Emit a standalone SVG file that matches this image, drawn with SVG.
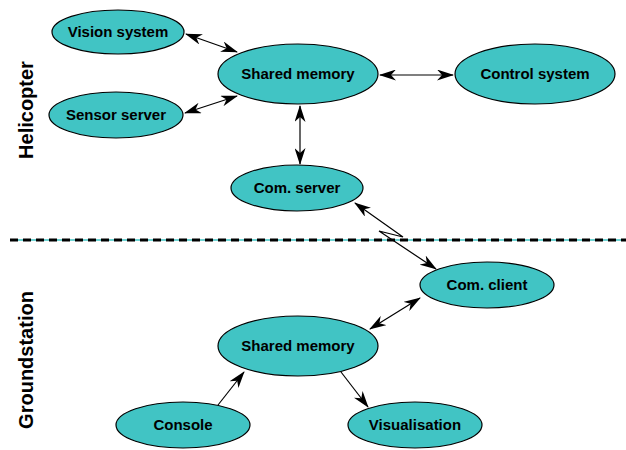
<svg xmlns="http://www.w3.org/2000/svg" width="626" height="450" viewBox="0 0 626 450">
<style>
.n ellipse{fill:#41c4c4;stroke:#000;stroke-width:1.2}
.n text{font-family:"Liberation Sans",Arial,sans-serif;font-weight:bold;font-size:15px;text-anchor:middle;fill:#000}
.lab{font-family:"Liberation Sans",Arial,sans-serif;font-weight:bold;font-size:20px;text-anchor:middle;fill:#000}
.c{fill:none;stroke:#000;stroke-width:1.2}
</style>
<defs>
<marker id="ah" viewBox="0 0 17 11" refX="16" refY="5.5" markerWidth="17" markerHeight="11" markerUnits="userSpaceOnUse" orient="auto-start-reverse">
<path d="M0,0 L17,5.5 L0,11 L5,5.5 z" fill="#000"/>
</marker>
</defs>
<rect width="626" height="450" fill="#fff"/>
<line x1="10" y1="240" x2="626" y2="240" stroke="#41c4c4" stroke-width="1.5"/>
<line x1="10" y1="240" x2="626" y2="240" stroke="#000" stroke-width="3" stroke-dasharray="8,5"/>
<text class="lab" transform="translate(33,110) rotate(-90)">Helicopter</text>
<text class="lab" transform="translate(33,360) rotate(-90)">Groundstation</text>
<g id="connectors">
<line class="c" x1="186" y1="34" x2="237" y2="52" marker-start="url(#ah)" marker-end="url(#ah)"/>
<line class="c" x1="185" y1="113" x2="237" y2="96" marker-start="url(#ah)" marker-end="url(#ah)"/>
<line class="c" x1="380" y1="75" x2="453" y2="75" marker-start="url(#ah)" marker-end="url(#ah)"/>
<line class="c" x1="300" y1="106" x2="300" y2="164" marker-start="url(#ah)" marker-end="url(#ah)"/>
<polyline class="c" points="355,203 403,237 379,231 436,269" marker-start="url(#ah)" marker-end="url(#ah)"/>
<line class="c" x1="420" y1="298" x2="370" y2="329" marker-start="url(#ah)" marker-end="url(#ah)"/>
<line class="c" x1="218" y1="405" x2="244" y2="372" marker-end="url(#ah)"/>
<line class="c" x1="341" y1="372" x2="368" y2="407" marker-end="url(#ah)"/>
</g>
<g id="vision" class="n"><ellipse cx="118" cy="32" rx="66" ry="22"/><text x="118" y="37">Vision system</text></g>
<g id="sensor" class="n"><ellipse cx="116" cy="115" rx="67" ry="23"/><text x="116" y="120">Sensor server</text></g>
<g id="shared-heli" class="n"><ellipse cx="298" cy="74" rx="80" ry="30"/><text x="298" y="79">Shared memory</text></g>
<g id="control" class="n"><ellipse cx="535" cy="74" rx="80" ry="30"/><text x="535" y="79">Control system</text></g>
<g id="comserver" class="n"><ellipse cx="297" cy="188" rx="66" ry="23"/><text x="297" y="193">Com. server</text></g>
<g id="comclient" class="n"><ellipse cx="487" cy="285" rx="67" ry="23"/><text x="487" y="290">Com. client</text></g>
<g id="shared-ground" class="n"><ellipse cx="298" cy="346" rx="80" ry="30"/><text x="298" y="351">Shared memory</text></g>
<g id="console" class="n"><ellipse cx="183" cy="425" rx="67" ry="23"/><text x="183" y="430">Console</text></g>
<g id="visualisation" class="n"><ellipse cx="415" cy="425" rx="67" ry="23"/><text x="415" y="430">Visualisation</text></g>
</svg>
